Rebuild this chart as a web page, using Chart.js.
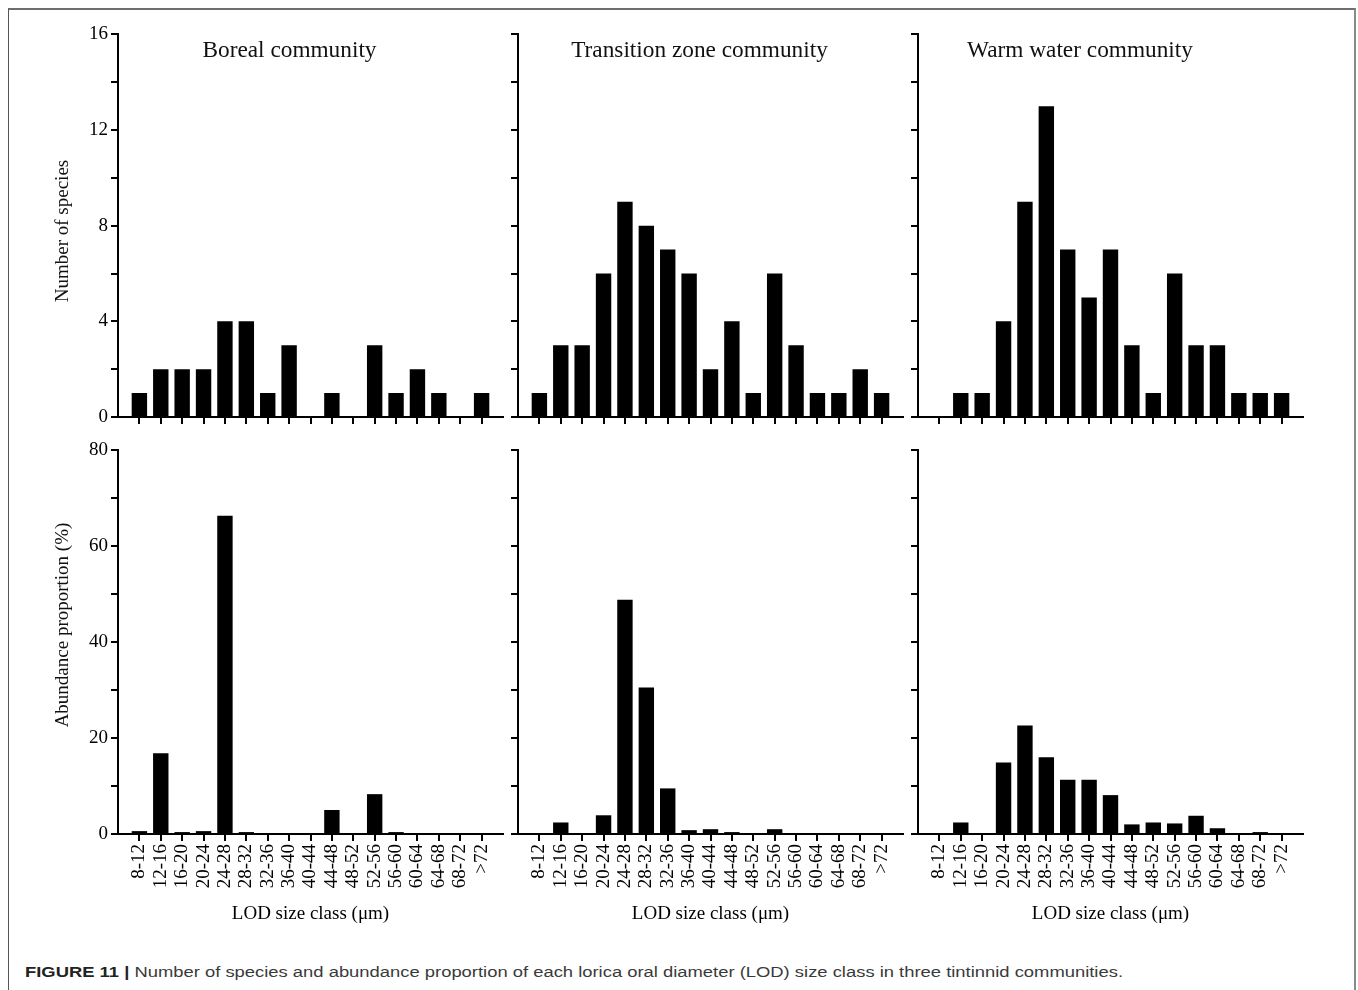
<!DOCTYPE html>
<html><head><meta charset="utf-8">
<script src="https://cdn.jsdelivr.net/npm/chart.js@4.4.1/dist/chart.umd.min.js"></script>
<style>
html,body{margin:0;padding:0;background:#fff;}
body{width:1358px;height:990px;position:relative;overflow:hidden;}
.frame{position:absolute;left:8px;top:8px;width:1348px;height:1010px;border-top:2px solid #6e6e6e;border-right:2px solid #8a8a8a;border-left:1px solid #555;box-sizing:border-box;}
canvas{position:absolute;}
.ptitle{position:absolute;width:400px;text-align:center;font-family:"Liberation Serif","Times New Roman",serif;font-size:23.3px;line-height:1;color:#111;white-space:nowrap;}
.ytitle{position:absolute;font-family:"Liberation Serif","Times New Roman",serif;font-size:19px;line-height:1;color:#111;white-space:nowrap;transform:translate(-50%,-50%) rotate(-90deg);}
.caption{position:absolute;left:25px;top:964px;font-family:"Liberation Sans",Arial,sans-serif;font-size:15.5px;line-height:1;color:#3a3a3a;white-space:nowrap;transform-origin:left center;}
.caption b{color:#222;}
</style>
</head>
<body>
<div class="frame"></div>

<canvas id="c1" width="510" height="420" style="left:0px;top:20px"></canvas>
<canvas id="c2" width="405" height="420" style="left:505px;top:20px"></canvas>
<canvas id="c3" width="405" height="420" style="left:905px;top:20px"></canvas>
<canvas id="c4" width="510" height="500" style="left:0px;top:435px"></canvas>
<canvas id="c5" width="405" height="500" style="left:505px;top:435px"></canvas>
<canvas id="c6" width="405" height="500" style="left:905px;top:435px"></canvas>

<div class="ptitle" style="left:89.5px;top:37.5px">Boreal community</div>
<div class="ptitle" style="left:499.5px;top:37.5px">Transition zone community</div>
<div class="ptitle" style="left:880px;top:37.5px">Warm water community</div>

<div class="ytitle" style="left:61px;top:231px">Number of species</div>
<div class="ytitle" style="left:61px;top:625px">Abundance proportion (%)</div>

<div class="caption" id="cap"><b>FIGURE 11 |</b> Number of species and abundance proportion of each lorica oral diameter (LOD) size class in three tintinnid communities.</div>

<script>
// ---- data ----
const sizeClasses = ['8-12','12-16','16-20','20-24','24-28','28-32','32-36','36-40','40-44','44-48','48-52','52-56','56-60','60-64','64-68','68-72','>72'];

const borealSpecies     = [1, 2, 2, 2, 4, 4, 1, 3, 0, 1, 0, 3, 1, 2, 1, 0, 1];
const transitionSpecies = [1, 3, 3, 6, 9, 8, 7, 6, 2, 4, 1, 6, 3, 1, 1, 2, 1];
const warmSpecies       = [0, 1, 1, 4, 9, 13, 7, 5, 7, 3, 1, 6, 3, 3, 1, 1, 1];

const borealAbundance     = [0.6, 16.8, 0.4, 0.6, 66.3, 0.4, 0, 0, 0, 5.0, 0, 8.3, 0.4, 0, 0, 0, 0];
const transitionAbundance = [0, 2.4, 0.2, 3.9, 48.8, 30.5, 9.5, 0.8, 1.0, 0.4, 0, 1.0, 0.2, 0, 0, 0, 0];
const warmAbundance       = [0, 2.4, 0, 14.9, 22.6, 16.0, 11.3, 11.3, 8.1, 2.0, 2.4, 2.2, 3.8, 1.2, 0.1, 0.4, 0];

const speciesTicks   = [0, 2, 4, 6, 8, 10, 12, 14, 16];
const speciesLabeled = [0, 4, 8, 12, 16];
const abundTicks     = [0, 10, 20, 30, 40, 50, 60, 70, 80];
const abundLabeled   = [0, 20, 40, 60, 80];

const xTitle = 'LOD size class (\u03bcm)';
// ---- end data ----

const SERIF = '"Liberation Serif","Times New Roman",serif';
Chart.defaults.font.family = SERIF;
Chart.defaults.color = '#000';

function makeChart(id, values, cfg) {
  const lineStyle = {drawOnChartArea:false, drawTicks:true, tickLength:7, tickWidth:2, lineWidth:2, color:'#000', offset:false};
  new Chart(document.getElementById(id), {
    type: 'bar',
    data: {
      datasets: [{
        data: values.map((v, i) => ({x: i, y: v})),
        backgroundColor: '#000',
        borderWidth: 0,
        barPercentage: 0.72,
        categoryPercentage: 1.0
      }]
    },
    options: {
      responsive: false,
      animation: false,
      events: [],
      layout: {padding: {top: cfg.padTop, right: 7, left: 0, bottom: 0}},
      plugins: {legend: {display: false}, tooltip: {enabled: false}},
      scales: {
        x: {
          type: 'linear', min: -1, max: 17, offset: false,
          afterBuildTicks: s => { s.ticks = sizeClasses.map((_, i) => ({value: i})); },
          afterFit: s => { s.height = cfg.xHeight; },
          grid: lineStyle,
          border: {display: true, color: '#000', width: 2},
          ticks: {
            autoSkip: false, minRotation: 90, maxRotation: 90, padding: 3,
            font: {family: SERIF, size: 19}, color: '#000',
            callback: v => cfg.xLabels ? sizeClasses[v] : ''
          },
          title: {display: cfg.xLabels, text: xTitle, font: {family: SERIF, size: 19}, color: '#000', padding: {top: 0, bottom: 10}}
        },
        y: {
          type: 'linear', min: 0, max: cfg.ymax,
          afterBuildTicks: s => { s.ticks = cfg.yTicks.map(v => ({value: v})); },
          afterFit: s => { s.width = cfg.yWidth; },
          grid: lineStyle,
          border: {display: true, color: '#000', width: 2},
          ticks: {
            padding: 3, font: {family: SERIF, size: 19}, color: '#000',
            callback: v => (cfg.yLabels && cfg.yLabeled.includes(v)) ? String(v) : ''
          }
        }
      }
    }
  });
}

const topCfg = {padTop: 13, xHeight: 23, ymax: 16, yTicks: speciesTicks, yLabeled: speciesLabeled, xLabels: false};
const botCfg = {padTop: 15, xHeight: 101, ymax: 80, yTicks: abundTicks, yLabeled: abundLabeled, xLabels: true};

makeChart('c1', borealSpecies,       Object.assign({}, topCfg, {yWidth: 118, yLabels: true}));
makeChart('c2', transitionSpecies,   Object.assign({}, topCfg, {yWidth: 13,  yLabels: false}));
makeChart('c3', warmSpecies,         Object.assign({}, topCfg, {yWidth: 13,  yLabels: false}));
makeChart('c4', borealAbundance,     Object.assign({}, botCfg, {yWidth: 118, yLabels: true}));
makeChart('c5', transitionAbundance, Object.assign({}, botCfg, {yWidth: 13,  yLabels: false}));
makeChart('c6', warmAbundance,       Object.assign({}, botCfg, {yWidth: 13,  yLabels: false}));

// caption width matched to the figure's caption line
const cap = document.getElementById('cap');
const w = cap.getBoundingClientRect().width;
cap.style.transform = 'scaleX(' + (1098 / w).toFixed(4) + ')';
</script>
</body></html>
